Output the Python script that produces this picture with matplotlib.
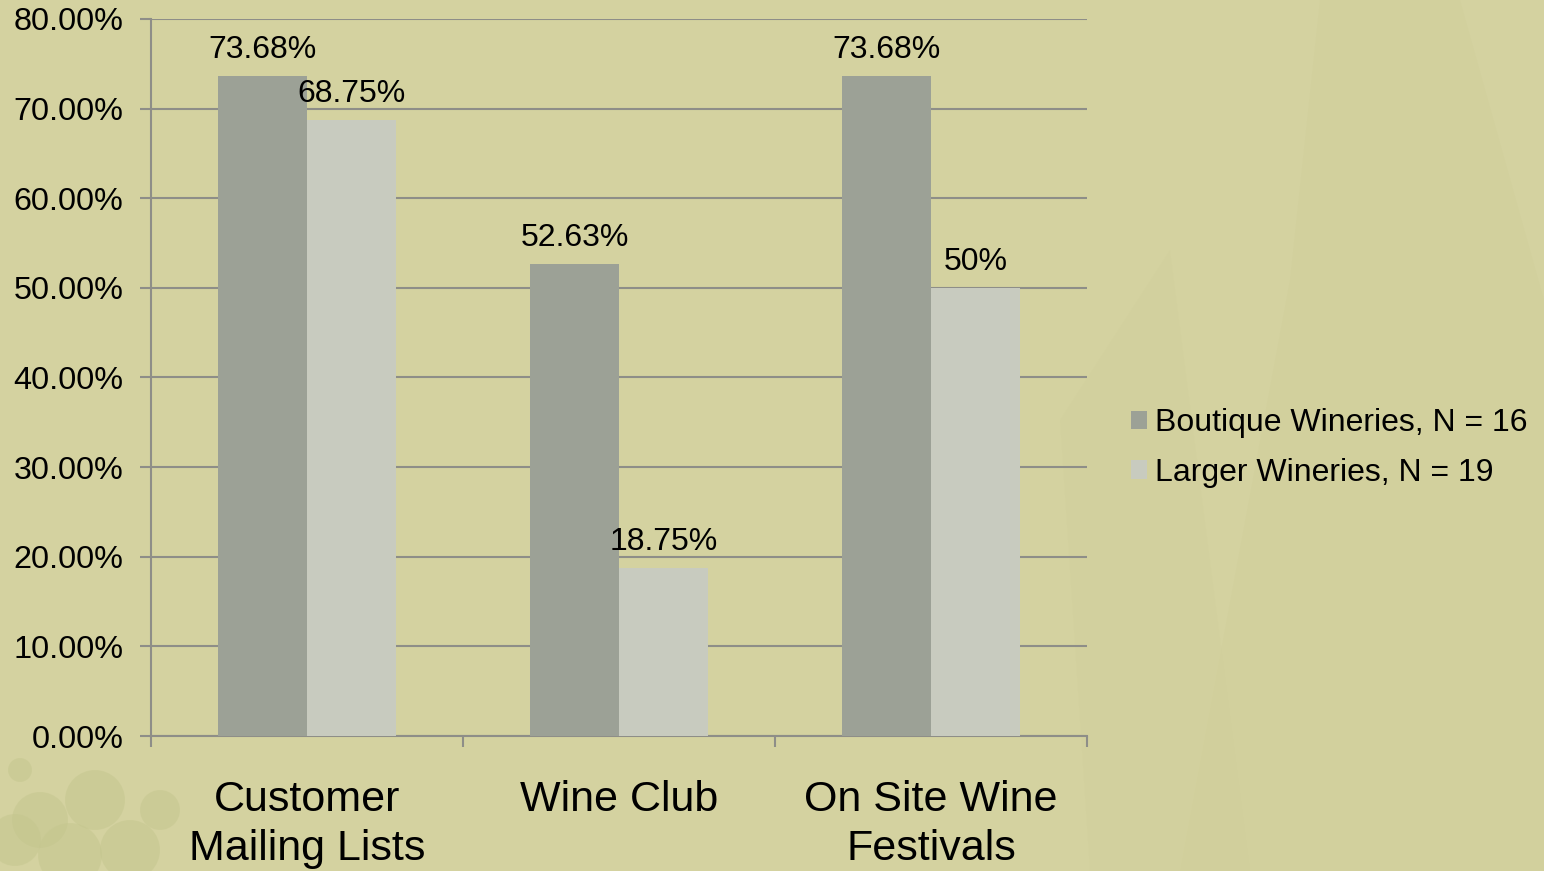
import matplotlib
matplotlib.use("Agg")
import matplotlib.pyplot as plt
import numpy as np
from matplotlib.patches import Circle

categories = ["Customer\nMailing Lists", "Wine Club", "On Site Wine\nFestivals"]
series_names = ["Boutique Wineries, N = 16", "Larger Wineries, N = 19"]
boutique = [73.68, 52.63, 73.68]
larger = [68.75, 18.75, 50.0]
boutique_labels = ["73.68%", "52.63%", "73.68%"]
larger_labels = ["68.75%", "18.75%", "50%"]
y_ticks = [0, 10, 20, 30, 40, 50, 60, 70, 80]

plt.rcParams["font.family"] = ["Liberation Sans", "DejaVu Sans"]

bg = "#D4D2A0"
dark = "#9CA196"
light = "#C8CBBF"
grid_col = "#8E8E88"

fig = plt.figure(figsize=(15.44, 8.71), dpi=100)
fig.patch.set_facecolor(bg)

# soft backdrop: faint bottle silhouettes and a grape cluster
deco = fig.add_axes([0, 0, 1, 1], zorder=-1)
deco.set_xlim(0, 1544)
deco.set_ylim(871, 0)
deco.axis("off")
deco.fill([1180, 1290, 1320, 1460, 1544, 1544], [871, 280, 0, 0, 300, 871],
          color="#CFCD98", alpha=0.35, lw=0)
deco.fill([1090, 1250, 1170, 1060], [871, 871, 250, 420], color="#D0CE9A", alpha=0.3, lw=0)
for cx, cy, r in [(20, 770, 12), (40, 820, 28), (95, 800, 30), (70, 855, 32),
                  (130, 850, 30), (15, 840, 26), (160, 810, 20)]:
    deco.add_patch(Circle((cx, cy), r, color="#C4C68E", alpha=0.5, lw=0))

ax = fig.add_axes([151 / 1544, 135 / 871, 936 / 1544, 717 / 871])
ax.set_facecolor("none")

x = np.arange(len(categories))
w = 0.285
b1 = ax.bar(x - w / 2, boutique, w, color=dark, label=series_names[0], zorder=3)
b2 = ax.bar(x + w / 2, larger, w, color=light, label=series_names[1], zorder=3)

for xi, v, s in zip(x - w / 2, boutique, boutique_labels):
    ax.annotate(s, (xi, v), xytext=(0, 8), textcoords="offset points",
                ha="center", va="bottom", fontsize=23, color="black", zorder=4)
for xi, v, s in zip(x + w / 2, larger, larger_labels):
    ax.annotate(s, (xi, v), xytext=(0, 8), textcoords="offset points",
                ha="center", va="bottom", fontsize=23, color="black", zorder=4)

ax.set_xlim(-0.5, len(categories) - 0.5)
ax.set_ylim(0, 80)
ax.set_yticks(y_ticks)
ax.set_yticklabels([f"{t:.2f}%" for t in y_ticks], fontsize=23.3)
ax.yaxis.grid(True, color=grid_col, lw=1.5, zorder=1)
ax.set_axisbelow(True)

ax.set_xticks(x)
ax.set_xticklabels(categories, fontsize=31, linespacing=1.27)
ax.tick_params(axis="x", length=0, pad=32)
ax.set_xticks(np.arange(len(categories) + 1) - 0.5, minor=True)
ax.tick_params(axis="x", which="minor", length=8, width=1.5, color=grid_col)
ax.tick_params(axis="y", length=8, width=1.5, color=grid_col, pad=12)

for side in ["top", "right"]:
    ax.spines[side].set_visible(False)
ax.spines["left"].set_color(grid_col)
ax.spines["left"].set_linewidth(1.5)
ax.spines["bottom"].set_color(grid_col)
ax.spines["bottom"].set_linewidth(1.5)

fig.legend(handles=[b1, b2], loc="center left", bbox_to_anchor=(1102 / 1544, 1 - 448 / 871),
           frameon=False, fontsize=23, handlelength=0.5, handleheight=0.5,
           handletextpad=0.25, labelspacing=0.62)

fig.savefig("out.png", dpi=100, facecolor=bg)
